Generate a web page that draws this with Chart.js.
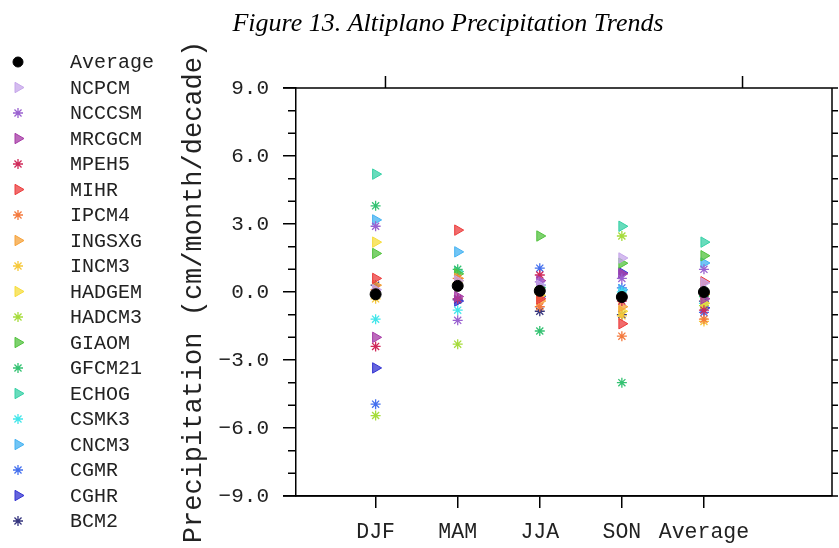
<!DOCTYPE html>
<html>
<head>
<meta charset="utf-8">
<script src="https://cdn.jsdelivr.net/npm/chart.js@4/dist/chart.umd.min.js"></script>
<style>
  html, body { margin: 0; padding: 0; background: #fff; }
  #wrap { width: 839px; height: 548px; }
</style>
</head>
<body>
<div id="wrap"><canvas id="myChart"></canvas></div>
<script>
// categories on the x axis
const seasons = ['DJF', 'MAM', 'JJA', 'SON', 'Average'];

// trend per model, cm/month/decade, one value per season
const avgVals    = [-0.10,  0.27,  0.05, -0.22,  0.00];
const ncpcmVals  = [ 0.10,  0.50,  0.30,  1.50,  0.40];
const ncccsmVals = [ 2.90, -1.25,  0.45,  0.60,  1.00];
const mrcgcmVals = [-2.00, -0.20,  0.50,  0.80, -0.30];
const mpeh5Vals  = [-2.40, -0.30,  0.75, -0.40, -0.80];
const mihrVals   = [ 0.60,  2.73, -0.30, -1.40,  0.45];
const ipcm4Vals  = [ 0.10,  0.60, -0.65, -1.95, -1.20];
const ingsxgVals = [ 0.30,  0.60, -0.40, -0.65, -0.10];
const incm3Vals  = [-0.30,  0.40, -0.10, -1.05, -1.30];
const hadgemVals = [ 2.20,  0.50, -0.15, -0.85, -0.50];
const hadcm3Vals = [-5.45, -2.30,  0.20,  2.47, -0.60];
const giaomVals  = [ 1.70,  0.80,  2.47,  1.27,  1.60];
const gfcm21Vals = [ 3.80,  1.00, -1.72, -4.00, -0.20];
const echogVals  = [ 5.20,  0.90,  0.20,  2.90,  2.20];
const csmk3Vals  = [-1.20, -0.80,  0.10,  0.00, -0.50];
const cncm3Vals  = [ 3.18,  1.77,  0.30,  0.10,  1.28];
const cgmrVals   = [-4.95, -0.30,  1.05,  0.18, -0.90];
const cghrVals   = [-3.35, -0.40, -0.20,  0.85, -0.70];
const bcm2Vals   = [ 0.30, -0.35, -0.85, -1.00, -0.40];

// y tick range
const yMin = -9, yMax = 9, yStep = 3;
// extra tick marks on the top edge (x scale units)
const topTicks = [1.12, 5.47];

const models = [
  ['Average', avgVals,    '#000000', 'circle'],
  ['NCPCM',   ncpcmVals,  '#c6a6ea', 'triangle'],
  ['NCCCSM',  ncccsmVals, '#9a62d0', 'star'],
  ['MRCGCM',  mrcgcmVals, '#a63aa6', 'triangle'],
  ['MPEH5',   mpeh5Vals,  '#d02a5a', 'star'],
  ['MIHR',    mihrVals,   '#ec3c3c', 'triangle'],
  ['IPCM4',   ipcm4Vals,  '#f47a3e', 'star'],
  ['INGSXG',  ingsxgVals, '#f6a23a', 'triangle'],
  ['INCM3',   incm3Vals,  '#f6c83a', 'star'],
  ['HADGEM',  hadgemVals, '#f6dc3c', 'triangle'],
  ['HADCM3',  hadcm3Vals, '#a6dc3c', 'star'],
  ['GIAOM',   giaomVals,  '#52c23e', 'triangle'],
  ['GFCM21',  gfcm21Vals, '#34c272', 'star'],
  ['ECHOG',   echogVals,  '#36d0a6', 'triangle'],
  ['CSMK3',   csmk3Vals,  '#42e6ea', 'star'],
  ['CNCM3',   cncm3Vals,  '#44b2f2', 'triangle'],
  ['CGMR',    cgmrVals,   '#4470ee', 'star'],
  ['CGHR',    cghrVals,   '#3434d2', 'triangle'],
  ['BCM2',    bcm2Vals,   '#34347e', 'star']
];

function fillOf(col, style) {
  if (style === 'triangle') return col + 'c0';
  return col;
}

let datasets = [];
for (let m of models) {
  datasets.push({
    label: m[0],
    data: m[1].map((v, i) => ({ x: i + 1, y: v })),
    pointStyle: m[3],
    pointRotation: m[3] === 'triangle' ? 90 : 0,
    pointRadius: m[3] === 'circle' ? 5.5 : (m[3] === 'star' ? 5 : 6),
    pointBackgroundColor: fillOf(m[2], m[3]),
    pointBorderColor: m[2],
    pointBorderWidth: m[3] === 'star' ? 1.3 : 1,
    showLine: false
  });
}

const monoFont = "'Liberation Mono', 'DejaVu Sans Mono', monospace";

// frame, minor ticks, legend and title
const extras = {
  id: 'extras',
  afterDraw(chart) {
    const ctx = chart.ctx;
    const a = chart.chartArea;
    const ys = chart.scales.y;
    const xs = chart.scales.x;
    ctx.save();
    ctx.strokeStyle = '#000';
    ctx.lineWidth = 1.5;
    ctx.beginPath();
    ctx.moveTo(a.left - 13, a.top); ctx.lineTo(a.right, a.top);
    ctx.moveTo(a.left - 13, a.bottom); ctx.lineTo(a.right + 4, a.bottom);
    ctx.moveTo(a.right, a.top); ctx.lineTo(a.right, a.bottom);
    for (let v = yMin; v <= yMax; v++) {
      let py = ys.getPixelForValue(v);
      if (v % yStep !== 0) {
        ctx.moveTo(a.left - 8, py); ctx.lineTo(a.left, py);
      }
      ctx.moveTo(a.right, py); ctx.lineTo(a.right + 6, py);
    }
    for (let t of topTicks) {
      let px = xs.getPixelForValue(t);
      ctx.moveTo(px, a.top); ctx.lineTo(px, a.top - 12);
    }
    ctx.stroke();

    // title
    ctx.fillStyle = '#000';
    ctx.font = "italic 26px 'Liberation Serif', serif";
    ctx.textAlign = 'center';
    ctx.textBaseline = 'alphabetic';
    ctx.fillText('Figure 13. Altiplano Precipitation Trends', 448, 31);

    // legend
    ctx.font = '20px ' + monoFont;
    ctx.textAlign = 'left';
    ctx.textBaseline = 'middle';
    chart.data.datasets.forEach((ds, i) => {
      let ly = 62 + i * 25.5;
      let opts = {
        pointStyle: ds.pointStyle,
        rotation: ds.pointRotation,
        radius: ds.pointStyle === 'triangle' ? 6 : 5,
        borderWidth: ds.pointBorderWidth
      };
      ctx.fillStyle = ds.pointBackgroundColor;
      ctx.strokeStyle = ds.pointBorderColor;
      ctx.lineWidth = ds.pointBorderWidth;
      Chart.helpers.drawPoint(ctx, opts, 18, ly);
      ctx.fillStyle = '#222';
      ctx.fillText(ds.label, 70, ly + 1);
    });
    ctx.restore();
  }
};

const myChart = new Chart(document.getElementById('myChart'), {
  type: 'scatter',
  data: { datasets: datasets },
  plugins: [extras],
  options: {
    responsive: true,
    maintainAspectRatio: false,
    animation: false,
    layout: { padding: { left: 170, top: 88, right: 4, bottom: 0 } },
    plugins: {
      legend: { display: false },
      tooltip: { enabled: false }
    },
    scales: {
      x: {
        type: 'linear',
        min: 0.03,
        max: 6.56,
        afterBuildTicks: (s) => { s.ticks = seasons.map((c, i) => ({ value: i + 1 })); },
        afterFit: (s) => { s.height = 52; },
        ticks: {
          autoSkip: false,
          maxRotation: 0,
          padding: 11,
          color: '#222',
          font: { family: monoFont, size: 21.5 },
          callback: (v, i) => seasons[i]
        },
        grid: { drawOnChartArea: false, tickLength: 12, color: '#000', lineWidth: 1.5 },
        border: { display: true, color: '#000', width: 1.5 }
      },
      y: {
        min: yMin,
        max: yMax,
        afterFit: (s) => { s.width = 126; },
        ticks: {
          stepSize: yStep,
          padding: 14,
          color: '#222',
          font: { family: monoFont, size: 21 },
          callback: (v) => (v < 0 ? '\u2212' : '') + Math.abs(v).toFixed(1)
        },
        grid: { drawOnChartArea: false, tickLength: 13, color: '#000', lineWidth: 1.5 },
        border: { display: true, color: '#000', width: 1.5 },
        title: {
          display: true,
          text: 'Precipitation (cm/month/decade)',
          color: '#222',
          font: { family: monoFont, size: 27 },
          padding: { top: 8, bottom: 0 }
        }
      }
    }
  }
});
</script>
</body>
</html>
